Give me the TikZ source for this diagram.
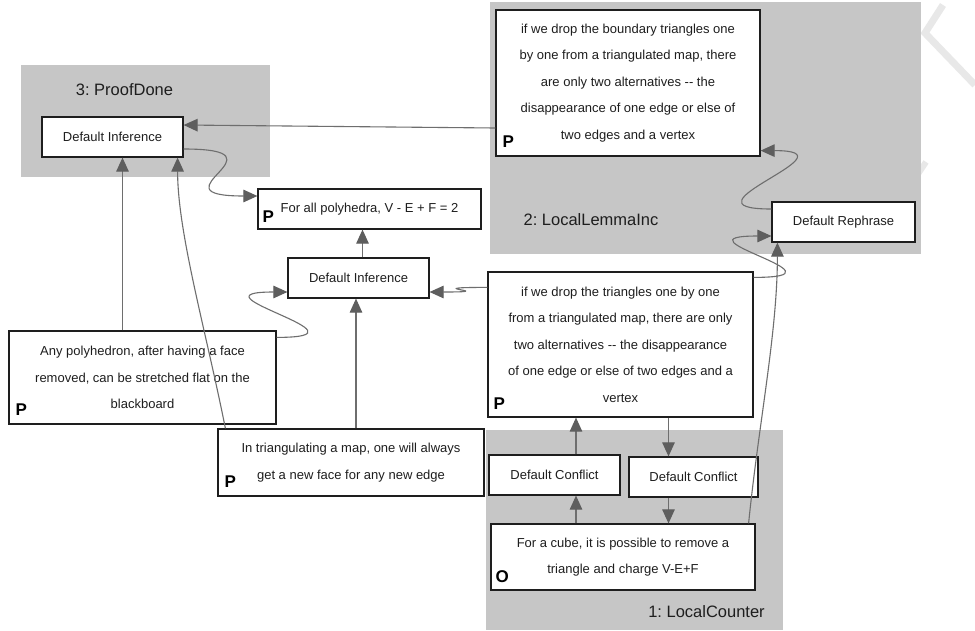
\documentclass[tikz,border=0pt]{standalone}
\usepackage{fontspec}
\setmainfont{Liberation Sans}
\usetikzlibrary{arrows.meta,calc}
\definecolor{grpc}{HTML}{C6C6C6}
\definecolor{edgec}{HTML}{6E6E6E}
\definecolor{tipc}{HTML}{5E5E5E}
\definecolor{txtc}{HTML}{1E1E1E}
\definecolor{wmc}{HTML}{E8E8E8}
\frenchspacing
\begin{document}
\begin{tikzpicture}[x=1pt,y=-1pt,
  box/.style={draw=txtc, line width=1.2pt, fill=white, inner sep=0pt, text=txtc, align=center, font=\fontsize{13}{26.5}\selectfont},
  grpbox/.style={fill=grpc, draw=none},
  ttl/.style={text=txtc, font=\fontsize{16.5}{18}\selectfont, inner sep=0pt},
  plab/.style={font=\fontsize{17}{18}\selectfont\bfseries, text=black, inner sep=0pt, anchor=base west},
  arr/.style={draw=edgec, line width=1.1pt, -{Triangle[length=14pt,width=12.5pt,color=tipc]}},
]
\useasboundingbox (0,0) rectangle (975,630);
\fill[white] (0,0) rectangle (975,630);
% watermark
\draw[wmc, line width=7pt] (943,5) -- (925,33) -- (975,85);
\draw[wmc, line width=6pt] (914,180) -- (926,162);
% groups
\fill[grpbox] (21,65) rectangle (270,177);
\fill[grpbox] (490,2) rectangle (921,254);
\fill[grpbox] (486,430) rectangle (783,630);
\node[ttl] (t3) at (124.5,90) {3: ProofDone};
\node[ttl] (t2) at (591,220) {2: LocalLemmaInc};
\node[ttl] (t1) at (706.5,612) {1: LocalCounter};
% nodes
\node[box, minimum width=264pt, minimum height=146pt] (tr) at (628,83)
  {if we drop the boundary triangles one\\by one from a triangulated map, there\\are only two alternatives -{}- the\\disappearance of one edge or else of\\two edges and a vertex};
\node[box, minimum width=143pt, minimum height=40pt] (reph) at (843.5,222) {Default Rephrase};
\node[box, minimum width=265pt, minimum height=145pt] (mr) at (620.5,344.5)
  {if we drop the triangles one by one\\from a triangulated map, there are only\\two alternatives -{}- the disappearance\\of one edge or else of two edges and a\\vertex};
\node[box, minimum width=131pt, minimum height=40pt] (dc1) at (554.5,475) {Default Conflict};
\node[box, minimum width=129pt, minimum height=40pt] (dc2) at (693.5,477) {Default Conflict};
\node[box, minimum width=264pt, minimum height=66pt] (cube) at (623,557)
  {For a cube, it is possible to remove a\\triangle and charge V-E+F};
\node[box, minimum width=141pt, minimum height=40pt] (di3) at (112.5,137) {Default Inference};
\node[box, minimum width=223pt, minimum height=40pt] (goal) at (369.5,209) {For all polyhedra, V - E + F = 2};
\node[box, minimum width=141pt, minimum height=40pt] (di2) at (358.5,278) {Default Inference};
\node[box, minimum width=267pt, minimum height=93pt] (any) at (142.5,377.5)
  {Any polyhedron, after having a face\\removed, can be stretched flat on the\\blackboard};
\node[box, minimum width=266pt, minimum height=67pt] (tri) at (351,462.5)
  {In triangulating a map, one will always\\get a new face for any new edge};
% labels
\node[plab] (ptr) at ($(tr.south west)+(7,-9)$) {P};
\node[plab] (pgoal) at ($(goal.south west)+(5,-7)$) {P};
\node[plab] (pany) at ($(any.south west)+(7,-9)$) {P};
\node[plab] (ptri) at ($(tri.south west)+(7,-9)$) {P};
\node[plab] (pmr) at ($(mr.south west)+(6,-8)$) {P};
\node[plab] (pcube) at ($(cube.south west)+(5,-8)$) {O};
% edges
\draw[arr] ($(tr.west)+(0,45)$) -- ($(di3.east)+(0,-12)$);
\draw[arr] ($(di3.east)+(0,12)$) .. controls +(110,0) and +(-110,0) .. ($(goal.west)+(0,-13)$);
\coordinate (a3) at ($(di2.north)+(4,0)$);
\draw[arr] (a3) -- (a3 |- goal.south);
\coordinate (a4) at ($(di3.south)+(10,0)$);
\draw[arr] (a4 |- any.north) -- (a4);
\draw[arr] ($(tri.north west)+(8,0)$) .. controls +(-20,-100) and +(0,75) .. ($(di3.south east)+(-6,0)$);
\draw[arr] ($(any.north east)+(0,7)$) .. controls +(105,0) and +(-105,0) .. ($(di2.west)+(0,14)$);
\coordinate (a7) at ($(di2.south)+(-2.5,0)$);
\draw[arr] (a7 |- tri.north) -- (a7);
\draw[arr] ($(mr.north west)+(0,16)$) .. controls +(-75,0) and +(75,0) .. ($(di2.east)+(0,14)$);
\draw[arr] ($(mr.north east)+(0,6)$) .. controls +(104,0) and +(-104,0) .. ($(reph.west)+(0,14)$);
\draw[arr] ($(reph.west)+(0,-13)$) .. controls +(-100,0) and +(100,0) .. ($(tr.south east)+(0,-6)$);
\draw[arr] ($(cube.north east)+(-7,0)$) .. controls +(10,-100) and +(0,90) .. ($(reph.south west)+(6,0)$);
\coordinate (a12) at ($(dc1.south)+(21.5,0)$);
\draw[arr] (a12 |- cube.north) -- (a12);
\coordinate (a13) at ($(dc1.north)+(21.5,0)$);
\draw[arr] (a13) -- (a13 |- mr.south);
\coordinate (a14) at ($(dc2.north)+(-25,0)$);
\draw[arr] (a14 |- mr.south) -- (a14);
\coordinate (a15) at ($(dc2.south)+(-25,0)$);
\draw[arr] (a15) -- (a15 |- cube.north);
\end{tikzpicture}
\end{document}
